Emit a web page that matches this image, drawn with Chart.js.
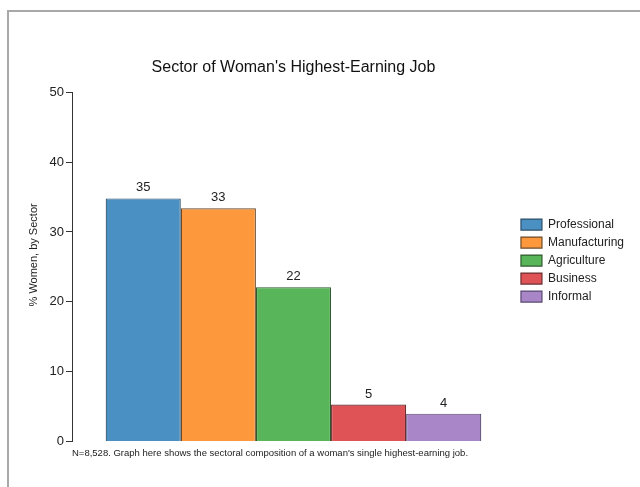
<!DOCTYPE html>
<html><head><meta charset="utf-8">
<script src="https://cdn.jsdelivr.net/npm/chart.js@4"></script>
<style>
html,body{margin:0;padding:0;background:#fff;overflow:hidden;}
#frame{position:absolute;left:7px;top:10px;width:700px;height:600px;border-top:2px solid #a8a8a8;border-left:2px solid #a8a8a8;}
#wrap{position:absolute;left:0;top:0;width:640px;height:487px;}
</style></head>
<body>
<div id="frame"></div>
<div id="wrap"><canvas id="c" width="640" height="487"></canvas></div>
<script>
const sectors = ['Professional','Manufacturing','Agriculture','Business','Informal'];
const shares = [34.8, 33.4, 22.1, 5.3, 4.0];
const valueLabels = ['35','33','22','5','4'];
const yTicks = [0,10,20,30,40,50];
const yAxisTitle = '% Women, by Sector';
const fillColors = ['#4a90c3','#fd993c','#59b559','#df5255','#a886c8'];
const edgeColors = ['#2d4f68','#6b4a2a','#2f5a30','#6a2e30','#594870'];

const FONT = "'Liberation Sans', Arial, sans-serif";

const labelPlugin = {
  id:'valueLabels',
  afterDatasetsDraw(chart){
    const ctx = chart.ctx;
    ctx.save();
    ctx.font = '13px ' + FONT;
    ctx.fillStyle = '#222';
    ctx.textAlign = 'center';
    ctx.textBaseline = 'bottom';
    chart.data.datasets.forEach((ds,i)=>{
      const el = chart.getDatasetMeta(i).data[0];
      ctx.fillText(valueLabels[i], el.x, el.y - 4);
    });
    // y axis title
    const ys = chart.scales.y;
    ctx.font = '11px ' + FONT;
    ctx.textBaseline = 'middle';
    ctx.translate(34, (ys.top + ys.bottom)/2 - 12);
    ctx.rotate(-Math.PI/2);
    ctx.fillText(yAxisTitle, 0, 0);
    ctx.restore();
  }
};

new Chart(document.getElementById('c'), {
  type:'bar',
  data:{
    labels:[''],
    datasets: sectors.map((s,i)=>({
      label:s,
      data:[shares[i]],
      backgroundColor:fillColors[i],
      borderColor:edgeColors[i],
      borderWidth:1.2,
      barPercentage:1,
      categoryPercentage:0.848
    }))
  },
  options:{
    responsive:false,
    animation:false,
    devicePixelRatio:1,
    layout:{padding:{left:0,right:6,top:44,bottom:9.8}},
    scales:{
      x:{display:false},
      y:{
        min:0,max:50,
        afterBuildTicks(scale){ scale.ticks = yTicks.map(v=>({value:v})); },
        afterFit(scale){ scale.width = 72; },
        grid:{drawOnChartArea:false,drawTicks:true,tickLength:6,color:'#333',lineWidth:1},
        border:{display:true,color:'#333',width:1},
        ticks:{color:'#222',font:{size:13,family:FONT},padding:2}
      }
    },
    plugins:{
      title:{display:true,text:"Sector of Woman's Highest-Earning Job",fullSize:false,color:'#111',
        font:{size:16,family:FONT,weight:'normal'},padding:{top:13.5,bottom:15.5}},
      subtitle:{display:true,position:'bottom',align:'start',fullSize:false,
        text:"N=8,528. Graph here shows the sectoral composition of a woman's single highest-earning job.",
        color:'#222',font:{size:9.5,family:FONT},padding:{top:6,bottom:18.2}},
      legend:{position:'right',align:'center',fullSize:true,
        labels:{boxWidth:21,boxHeight:11,padding:6,color:'#222',font:{size:12,family:FONT}}},
      tooltip:{enabled:false}
    }
  },
  plugins:[labelPlugin]
});
</script>
</body></html>
